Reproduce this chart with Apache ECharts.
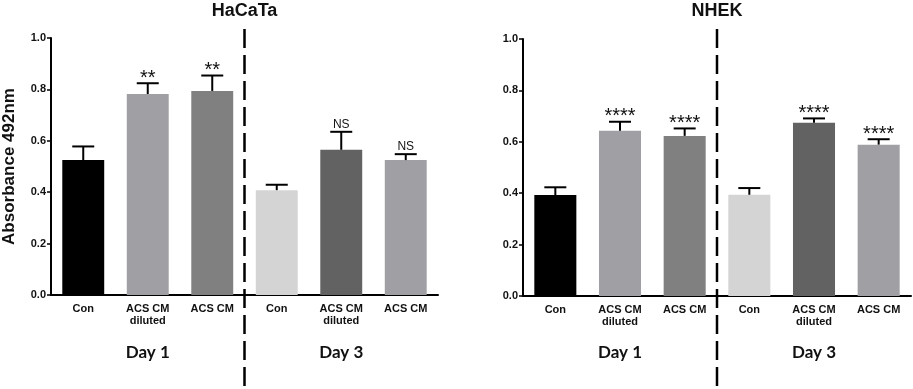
<!DOCTYPE html>
<html>
<head>
<meta charset="utf-8">
<script src="https://cdn.jsdelivr.net/npm/echarts@6/dist/echarts.min.js"></script>
<style>
html, body { margin: 0; padding: 0; background: #fff; }
#chart { width: 913px; height: 389px; }
</style>
</head>
<body>
<div id="chart"></div>
<script>
var categories = ['Con', 'ACS CM\ndiluted', 'ACS CM', 'Con', 'ACS CM\ndiluted', 'ACS CM'];
var barColors = ['#000000', '#a0a0a4', '#808080', '#d4d4d4', '#626262', '#a0a0a4'];
var hacatMeans = [0.525, 0.782, 0.794, 0.408, 0.565, 0.525];
var hacatErrors = [0.053, 0.042, 0.060, 0.021, 0.070, 0.023];
var hacatMarks = ['', '**', '**', '', 'NS', 'NS'];
var nhekMeans = [0.393, 0.643, 0.623, 0.394, 0.674, 0.589];
var nhekErrors = [0.030, 0.035, 0.029, 0.026, 0.017, 0.021];
var nhekMarks = ['', '****', '****', '', '****', '****'];
var yTicks = [0.0, 0.2, 0.4, 0.6, 0.8, 1.0];
var panelTitles = ['HaCaTa', 'NHEK'];
var dayLabels = ['Day 1', 'Day 3'];

var font = 'Liberation Sans, Arial, sans-serif';
var chart = echarts.init(document.getElementById('chart'));

function barData(means) {
	return means.map(function (v, i) {
		return { value: v, itemStyle: { color: barColors[i] } };
	});
}

function errorSeries(idx, means, errors, marks) {
	return {
		type: 'custom',
		xAxisIndex: idx,
		yAxisIndex: idx,
		z: 3,
		data: means.map(function (m, i) { return [i, m, errors[i]]; }),
		renderItem: function (params, api) {
			var i = api.value(0);
			var base = api.coord([i, api.value(1)]);
			var top = api.coord([i, api.value(1) + api.value(2)]);
			var half = 11;
			var mark = marks[params.dataIndex];
			var ns = mark === 'NS';
			var st = { stroke: '#000', lineWidth: 2 };
			return {
				type: 'group',
				children: [
					{ type: 'line', shape: { x1: base[0], y1: base[1], x2: top[0], y2: top[1] }, style: st },
					{ type: 'line', shape: { x1: top[0] - half, y1: top[1], x2: top[0] + half, y2: top[1] }, style: st },
					{
						type: 'text',
						style: {
							text: mark,
							x: top[0],
							y: top[1] + (ns ? -1 : 5),
							align: 'center',
							verticalAlign: 'bottom',
							font: (ns ? 'normal 12px ' : 'normal 20px ') + font,
							fill: '#111'
						}
					}
				]
			};
		}
	};
}

function xAxis(idx) {
	return {
		type: 'category',
		gridIndex: idx,
		data: categories,
		axisLine: { lineStyle: { color: '#000', width: 2 } },
		axisTick: { alignWithLabel: true, length: 4, lineStyle: { color: '#000', width: 1.5 } },
		axisLabel: { color: '#111', fontFamily: font, fontWeight: 'bold', fontSize: 11, lineHeight: 12, margin: 8, interval: 0 }
	};
}

function yAxis(idx) {
	return {
		type: 'value',
		gridIndex: idx,
		min: yTicks[0],
		max: yTicks[yTicks.length - 1],
		interval: yTicks[1] - yTicks[0],
		name: idx === 0 ? 'Absorbance 492nm' : '',
		nameLocation: 'middle',
		nameGap: 33,
		nameTextStyle: { color: '#111', fontFamily: font, fontWeight: 'bold', fontSize: 17 },
		axisLine: { show: true, lineStyle: { color: '#000', width: 2 } },
		axisTick: { show: true, length: 4, lineStyle: { color: '#000', width: 1.5 } },
		splitLine: { show: false },
		axisLabel: {
			color: '#111', fontFamily: font, fontWeight: 'bold', fontSize: 11, margin: 5,
			formatter: function (v) { return v.toFixed(1); }
		}
	};
}

var option = {
	animation: false,
	backgroundColor: '#fff',
	grid: [
		{ left: 50, right: 475, top: 38, bottom: 94 },
		{ left: 523, right: 2, top: 39, bottom: 93 }
	],
	xAxis: [xAxis(0), xAxis(1)],
	yAxis: [yAxis(0), yAxis(1)],
	series: [
		{ type: 'bar', xAxisIndex: 0, yAxisIndex: 0, barWidth: '65%', data: barData(hacatMeans) },
		{ type: 'bar', xAxisIndex: 1, yAxisIndex: 1, barWidth: '65%', data: barData(nhekMeans) },
		errorSeries(0, hacatMeans, hacatErrors, hacatMarks),
		errorSeries(1, nhekMeans, nhekErrors, nhekMarks)
	]
};
chart.setOption(option);

// divider, titles and day labels placed from the axis positions
var graphics = [];
[0, 1].forEach(function (g) {
	var px = function (i) { return chart.convertToPixel({ xAxisIndex: g }, i); };
	var mid = (px(2) + px(3)) / 2;
	var center = (px(0) + px(5)) / 2;
	graphics.push({
		type: 'line',
		shape: { x1: mid, y1: 29, x2: mid, y2: 389 },
		style: { stroke: '#000', lineWidth: 2.5, lineDash: [19, 7] },
		z: 10
	});
	graphics.push({
		type: 'text',
		style: { text: panelTitles[g], x: center, y: 11, align: 'center', verticalAlign: 'middle', font: 'bold 18px ' + font, fill: '#111' }
	});
	dayLabels.forEach(function (d, k) {
		graphics.push({
			type: 'text',
			style: { text: d, x: px(1 + k * 3), y: 353, align: 'center', verticalAlign: 'middle', font: 'bold 17px Lato, sans-serif', fill: '#111' }
		});
	});
});
chart.setOption({ graphic: graphics });
</script>
</body>
</html>
